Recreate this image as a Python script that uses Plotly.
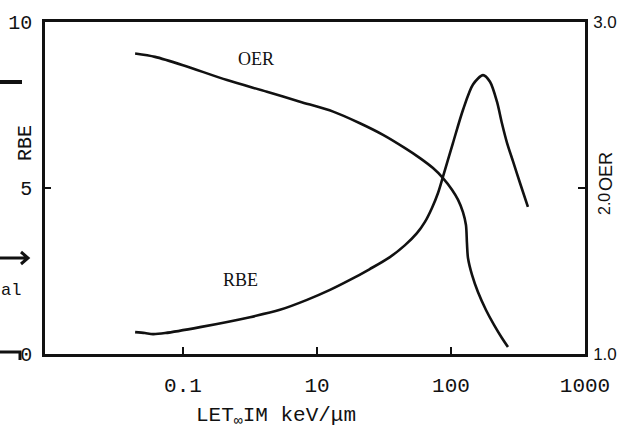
import plotly.graph_objects as go

# ---- data ----
# LET values (in the axis units of the drawing; tick "0.1" sits at 1)
oer_let = [0.439, 0.618, 1.00, 2.13, 4.23, 7.46, 13.2, 20.9, 31.1, 45.4, 58.7,
           73.4, 87.1, 101.7, 112.7, 122.8, 129.3, 131.5, 133.9, 143.5, 158.9,
           182.4, 209.4, 239.9, 266.1]
oer_val = [2.81, 2.79, 2.74, 2.65, 2.58, 2.52, 2.46, 2.39, 2.32, 2.24, 2.18,
           2.12, 2.06, 1.99, 1.93, 1.855, 1.777, 1.669, 1.578, 1.476, 1.373,
           1.265, 1.175, 1.096, 1.042]

rbe_let = [0.439, 0.520, 0.597, 0.735, 1.34, 3.16, 5.29, 8.42, 12.5, 17.6, 24.8,
           35.0, 45.4, 55.7, 63.9, 72.1, 80.0, 88.7, 103.5, 122.8, 145.9, 173.4,
           195.4, 220.3, 239.9, 261.8, 290.4, 327.3, 375.0]
rbe_val = [0.66, 0.63, 0.60, 0.63, 0.81, 1.11, 1.33, 1.63, 1.93, 2.23, 2.56,
           2.92, 3.28, 3.64, 3.98, 4.40, 4.85, 5.45, 6.36, 7.35, 8.12, 8.40,
           8.20, 7.60, 6.95, 6.36, 5.80, 5.15, 4.43]

x_tickvals = [1, 10, 100, 1000]
x_ticktext = ["0.1", "10", "100", "1000"]
rbe_ticks = [0, 5, 10]
oer_tickvals = [1, 3]
oer_ticktext = ["1.0", "3.0"]
oer_minor_ticks = [2]

MONO = "Liberation Mono"
SERIF = "Liberation Serif"
HAND = "Liberation Sans"
INK = "#111111"

fig = go.Figure()
fig.add_trace(go.Scatter(x=rbe_let, y=rbe_val, mode="lines", yaxis="y",
                         line=dict(color=INK, width=2.6, shape="spline", smoothing=0.8),
                         showlegend=False, hoverinfo="skip"))
fig.add_trace(go.Scatter(x=oer_let, y=oer_val, mode="lines", yaxis="y2",
                         line=dict(color=INK, width=2.6, shape="spline", smoothing=0.8),
                         showlegend=False, hoverinfo="skip"))

L, R, T, B = 45, 43, 22, 81
W, H = 628, 435
pw, ph = W - L - R, H - T - B


def px(xp):
    return (xp - L) / pw


def py(yp):
    return (H - B - yp) / ph


fig.update_layout(
    template="none",
    width=W, height=H,
    margin=dict(l=L, r=R, t=T, b=B, pad=0, autoexpand=False),
    paper_bgcolor="white", plot_bgcolor="white",
    xaxis=dict(type="log", range=[-1.03, 3.0], showgrid=False, zeroline=False,
               automargin=False,
               showline=True, linecolor=INK, linewidth=2.5, mirror=True,
               ticks="inside", ticklen=7, tickwidth=2, tickcolor=INK,
               tickvals=x_tickvals, ticktext=x_ticktext,
               tickfont=dict(family=MONO, size=21, color=INK),
               ticklabelstandoff=10),
    yaxis=dict(range=[0, 10], showgrid=False, zeroline=False, automargin=False,
               showline=True, linecolor=INK, linewidth=2.5,
               ticks="inside", ticklen=6, tickwidth=2, tickcolor=INK,
               tickvals=rbe_ticks,
               tickfont=dict(family=MONO, size=20, color=INK),
               ticklabelstandoff=6),
    yaxis2=dict(range=[1, 3], overlaying="y", side="right", showgrid=False,
                zeroline=False, automargin=False,
                showline=True, linecolor=INK, linewidth=2.5,
                ticks="inside", ticklen=7, tickwidth=2, tickcolor=INK,
                tickvals=oer_tickvals, ticktext=oer_ticktext,
                minor=dict(tickvals=oer_minor_ticks, ticks="inside", ticklen=7,
                           tickwidth=2, tickcolor=INK, showgrid=False),
                tickfont=dict(family=HAND, size=17, color=INK),
                ticklabelstandoff=2),
)

ann = [
    dict(text="OER", x=px(256), y=py(59), font=dict(family=SERIF, size=18, color=INK)),
    dict(text="RBE", x=px(240), y=py(280), font=dict(family=SERIF, size=18, color=INK)),
    dict(text="RBE", x=px(25), y=py(143), textangle=-90,
         font=dict(family=MONO, size=20, color=INK)),
    dict(text="OER", x=px(606), y=py(172), textangle=-90,
         font=dict(family=HAND, size=18, color=INK)),
    dict(text="2.0", x=px(605), y=py(204), textangle=-90,
         font=dict(family=HAND, size=16, color=INK)),
    dict(text="LET<sub>∞</sub>IM keV/μm", x=px(276), y=py(416),
         font=dict(family=MONO, size=21, color=INK)),
    dict(text="al", x=px(23), y=py(290), xanchor="right",
         font=dict(family=MONO, size=17, color=INK)),
]
for a in ann:
    a.setdefault("xanchor", "center")
    fig.add_annotation(xref="paper", yref="paper", showarrow=False, yanchor="middle", **a)

# cropped fragments of the neighbouring figure at the left edge
fig.add_shape(type="line", xref="paper", yref="paper",
              x0=px(0), x1=px(22), y0=py(82), y1=py(82),
              line=dict(color=INK, width=4))
fig.add_shape(type="path", xref="paper", yref="paper",
              path=f"M {px(0)} {py(258)} L {px(28)} {py(258)} "
                   f"M {px(21)} {py(252)} L {px(28)} {py(258)} L {px(21)} {py(264)}",
              line=dict(color=INK, width=3))
fig.add_shape(type="path", xref="paper", yref="paper",
              path=f"M {px(0)} {py(352)} L {px(20)} {py(352)} L {px(20)} {py(360)}",
              line=dict(color=INK, width=3))

fig.write_html("out.html", config={"displayModeBar": False},
               post_script="document.body.style.margin='0';document.body.style.padding='0';")
